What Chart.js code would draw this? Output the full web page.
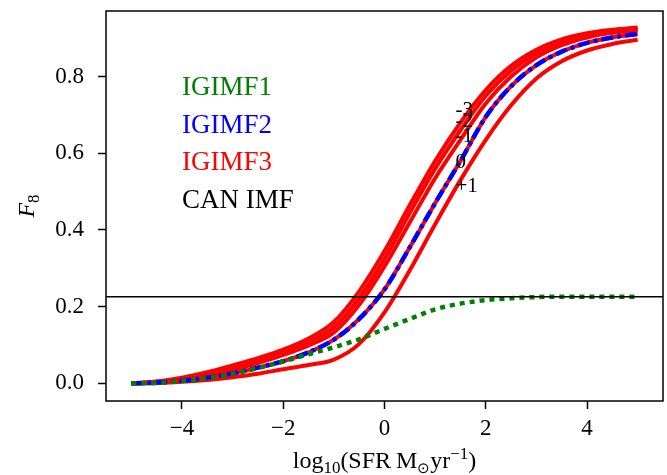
<!DOCTYPE html>
<html>
<head>
<meta charset="utf-8">
<script src="https://cdn.jsdelivr.net/npm/chart.js@4.4.0/dist/chart.umd.min.js"></script>
<style>
html, body { margin:0; padding:0; background:#fff; }
#wrap { width:667px; height:475px; }
</style>
</head>
<body>
<div id="wrap"><canvas id="c" width="667" height="475"></canvas></div>
<script>
// log10(SFR) grid
var logSFR = [-5, -4.5, -4, -3.5, -3, -2.5, -2, -1.5, -1, -0.5, 0, 0.5, 1, 1.5, 2, 2.5, 3, 3.5, 4, 4.5, 5];

// F8 values
var igimf1    = [0, 0.001, 0.006, 0.014, 0.025, 0.040, 0.057, 0.076, 0.094, 0.115, 0.142, 0.168, 0.193, 0.208, 0.217, 0.222, 0.225, 0.226, 0.226, 0.226, 0.226];
var igimf2    = [0, 0.002, 0.007, 0.015, 0.026, 0.041, 0.058, 0.081, 0.114, 0.168, 0.245, 0.355, 0.470, 0.580, 0.695, 0.775, 0.830, 0.865, 0.888, 0.902, 0.911];
var igimf3_m3 = [0, 0.005, 0.015, 0.029, 0.047, 0.066, 0.088, 0.117, 0.160, 0.240, 0.345, 0.465, 0.580, 0.680, 0.765, 0.828, 0.870, 0.897, 0.913, 0.922, 0.928];
var igimf3_m2 = [0, 0.004, 0.012, 0.025, 0.041, 0.060, 0.081, 0.108, 0.146, 0.222, 0.325, 0.445, 0.560, 0.660, 0.750, 0.815, 0.860, 0.890, 0.908, 0.918, 0.924];
var igimf3_m1 = [0, 0.003, 0.010, 0.021, 0.035, 0.053, 0.074, 0.099, 0.133, 0.205, 0.305, 0.420, 0.535, 0.635, 0.730, 0.800, 0.850, 0.882, 0.902, 0.914, 0.920];
var igimf3_0  = [0, 0.002, 0.007, 0.015, 0.026, 0.041, 0.058, 0.081, 0.114, 0.168, 0.245, 0.355, 0.470, 0.580, 0.695, 0.775, 0.830, 0.865, 0.888, 0.902, 0.911];
var igimf3_p1 = [0, 0.001, 0.004, 0.009, 0.016, 0.025, 0.037, 0.048, 0.062, 0.103, 0.185, 0.295, 0.415, 0.530, 0.635, 0.725, 0.795, 0.840, 0.868, 0.885, 0.896];
var canF8 = 0.226;

// metallicity labels next to the IGIMF3 curves
var metalLabels = ['-3', '-2', '-1', '0', '+1'];
var metalLabelX = [1.40, 1.40, 1.40, 1.40, 1.40];
var metalLabelY = [0.711, 0.682, 0.643, 0.575, 0.514];

var legendNames = ['IGIMF1', 'IGIMF2', 'IGIMF3', 'CAN IMF'];
var legendColors = ['#008000', '#0000ff', '#ff0000', '#000000'];

var xTicks = [-4, -2, 0, 2, 4];
var xTickLabels = ['\u22124', '\u22122', '0', '2', '4'];
var yTicks = [0, 0.2, 0.4, 0.6, 0.8];
var yTickLabels = ['0.0', '0.2', '0.4', '0.6', '0.8'];

var FONT = "'Liberation Serif', 'Times New Roman', serif";

function pts(ys) {
  return logSFR.map(function(x, i) { return {x: x, y: ys[i]}; });
}

function richText(c, parts, cx, base) {
  var w = 0;
  parts.forEach(function(p) { c.font = (p.style || '') + ' ' + p.size + 'px ' + FONT; p.w = c.measureText(p.t).width; w += p.w; });
  var x = cx - w / 2;
  parts.forEach(function(p) {
    c.font = (p.style || '') + ' ' + p.size + 'px ' + FONT;
    c.fillText(p.t, x, base + (p.dy || 0));
    x += p.w;
  });
}

var extras = {
  id: 'extras',
  afterDraw: function(chart) {
    var c = chart.ctx, a = chart.chartArea;
    var xs = chart.scales.x, ys = chart.scales.y;
    c.save();
    c.strokeStyle = '#000';
    c.lineWidth = 1.5;
    c.strokeRect(a.left, a.top, a.right - a.left, a.bottom - a.top);

    // legend (coloured text only)
    c.textAlign = 'left';
    c.textBaseline = 'middle';
    c.font = '27px ' + FONT;
    var ly = [88, 126, 163, 201];
    legendNames.forEach(function(n, i) {
      c.fillStyle = legendColors[i];
      c.fillText(n, 182, ly[i]);
    });

    // metallicity labels
    c.fillStyle = '#000';
    c.font = '21px ' + FONT;
    metalLabels.forEach(function(t, i) {
      c.fillText(t, xs.getPixelForValue(metalLabelX[i]), ys.getPixelForValue(metalLabelY[i]));
    });

    // axis titles
    c.textBaseline = 'alphabetic';
    c.textAlign = 'left';
    richText(c, [
      {t: 'log', size: 24},
      {t: '10', size: 17, dy: 5},
      {t: '(SFR\u2009M', size: 24},
      {t: '\u2299', size: 15, dy: 5},
      {t: 'yr', size: 24},
      {t: '\u22121', size: 17, dy: -9},
      {t: ')', size: 24}
    ], (a.left + a.right) / 2, 468);

    c.translate(34, (a.top + a.bottom) / 2);
    c.rotate(-Math.PI / 2);
    richText(c, [
      {t: 'F', size: 24, style: 'italic'},
      {t: '8', size: 17, dy: 5}
    ], 0, 0);
    c.restore();
  }
};

var reds = [igimf3_m3, igimf3_m2, igimf3_m1, igimf3_0, igimf3_p1];
var datasets = [
  {label: 'CAN IMF', data: [{x: -5.5, y: canF8}, {x: 5.5, y: canF8}], borderColor: '#000', borderWidth: 1.5, order: 0},
  {label: 'IGIMF1', data: pts(igimf1), borderColor: '#008000', borderWidth: 4.5, borderDash: [5, 5], order: 1},
  {label: 'IGIMF2', data: pts(igimf2), borderColor: '#0000ff', borderWidth: 4.5, borderDash: [12, 4, 4, 4], order: 2}
];
reds.forEach(function(r, i) {
  datasets.push({label: 'IGIMF3 ' + metalLabels[i], data: pts(r), borderColor: '#ff0000', borderWidth: 4, order: 3 + i});
});

var ctx = document.getElementById('c').getContext('2d');
new Chart(ctx, {
  type: 'line',
  data: {datasets: datasets},
  options: {
    responsive: false,
    animation: false,
    layout: {padding: {top: 11, right: 4, left: 0, bottom: 0}},
    elements: {point: {radius: 0}, line: {cubicInterpolationMode: 'monotone', fill: false}},
    plugins: {legend: {display: false}, tooltip: {enabled: false}},
    scales: {
      x: {
        type: 'linear', min: -5.5, max: 5.5,
        afterBuildTicks: function(s) { s.ticks = xTicks.map(function(v) { return {value: v}; }); },
        afterFit: function(s) { s.height = 74; s.paddingLeft = 0; s.paddingRight = 0; s.paddingTop = 0; s.paddingBottom = 0; },
        grid: {drawOnChartArea: false, tickLength: 8, tickWidth: 1.5, tickColor: '#000'},
        border: {display: false},
        ticks: {color: '#000', font: {family: FONT, size: 23}, padding: 6, maxRotation: 0,
          callback: function(v) { return xTickLabels[xTicks.indexOf(v)]; }}
      },
      y: {
        type: 'linear', min: -0.046, max: 0.971,
        afterBuildTicks: function(s) { s.ticks = yTicks.map(function(v) { return {value: v}; }); },
        afterFit: function(s) { s.width = 106; s.paddingLeft = 0; s.paddingRight = 0; s.paddingTop = 0; s.paddingBottom = 0; },
        grid: {drawOnChartArea: false, tickLength: 8, tickWidth: 1.5, tickColor: '#000'},
        border: {display: false},
        ticks: {color: '#000', font: {family: FONT, size: 23}, padding: 14,
          callback: function(v) { return yTickLabels[yTicks.indexOf(v)]; }}
      }
    }
  },
  plugins: [extras]
});
</script>
</body>
</html>
